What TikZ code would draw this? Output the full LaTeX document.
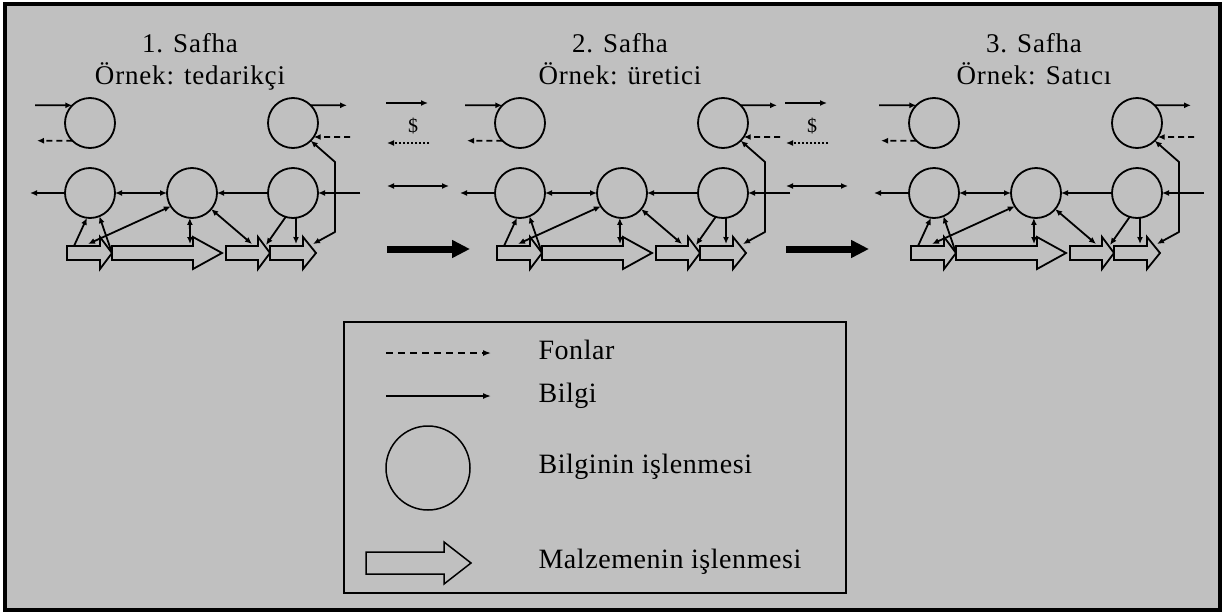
\documentclass[tikz,border=0pt]{standalone}
\usepackage{fontspec}
\setmainfont{Liberation Serif}
\usetikzlibrary{arrows.meta,calc}
\definecolor{panel}{RGB}{192,192,192}
\tikzset{
  tip/.style={-{Latex[length=7pt,width=6pt]}},
  tips/.style={{Latex[length=7pt,width=6pt]}-{Latex[length=7pt,width=6pt]}},
  proc/.style={circle,draw,line width=1.8pt,minimum size=50pt,inner sep=0pt,outer sep=0pt},
  flow/.style={line width=1.8pt},
  fund/.style={line width=1.8pt,dash pattern=on 6pt off 4pt},
  money/.style={line width=1.6pt,dash pattern=on 2pt off 2pt},
  mat/.style={draw,line width=1.8pt,fill=panel,line join=miter},
  goods/.style={line width=7pt,-{Triangle[length=18pt,width=17pt]}},
  title/.style={font=\fontsize{27}{32}\selectfont\addfontfeatures{LetterSpace=3},anchor=base},
  legtext/.style={font=\fontsize{28}{34}\selectfont\addfontfeatures{LetterSpace=2},anchor=base west},
}
% block arrow for material processing: left x, head start x, tip x, centre y, body half, head half
\newcommand\matarrow[6]{%
  \draw[mat] (#1,#4-#5) -- (#2,#4-#5) -- (#2,#4-#6) -- (#3,#4) -- (#2,#4+#6)
    -- (#2,#4+#5) -- (#1,#4+#5) -- cycle;}
\begin{document}
\begin{tikzpicture}[x=1pt,y=-1pt]
\useasboundingbox (0,0) rectangle (1230,613);
\fill[white] (0,0) rectangle (1230,613);
\draw[line width=4pt,fill=panel] (5,4) rectangle (1220,610);

% the three stages of the chain
\foreach \s/\dx/\who in {1/0/tedarikçi,2/430/üretici,3/844/Satıcı}{
\begin{scope}[xshift=\dx pt]
  \node[title] (h\s) at (190,52) {\s. Safha};
  \node[title] (w\s) at (190,84) {Örnek: \who};

  \node[proc] (tl\s) at (90,123) {};
  \node[proc] (tr\s) at (293,123) {};
  \node[proc] (ml\s) at (90,193) {};
  \node[proc] (mc\s) at (192,193) {};
  \node[proc] (mr\s) at (293,193) {};

  \matarrow{67}{100}{112}{253}{7}{16}
  \matarrow{112}{193}{222}{253}{7}{16}
  \matarrow{226}{258}{270}{253}{7}{16}
  \matarrow{270}{303}{316}{253}{7}{16}

  % free ends of the connectors
  \coordinate (tli\s) at (35,105.3);
  \coordinate (tlo\s) at (37,140.7);
  \coordinate (tro\s) at (347,105.3);
  \coordinate (tri\s) at (350,137);
  \coordinate (mlo\s) at (30,193);
  \coordinate (mri\s) at (360,193);
  \coordinate (a1a\s) at (74,246);
  \coordinate (a1t\s) at (112,253);
  \coordinate (a1b\s) at (88,244);
  \coordinate (a2a\s) at (190,244);
  \coordinate (a3a\s) at (252,244);
  \coordinate (a3b\s) at (266,245);
  \coordinate (a4a\s) at (296,244);
  \coordinate (a4b\s) at (313,244);
  \coordinate (fb1\s) at (335,232);
  \coordinate (fb2\s) at (335,162);

  \draw[flow,tip] (tli\s) -- (tl\s.135);
  \draw[fund,tip] (tl\s.225) -- (tlo\s);
  \draw[flow,tip] (tr\s.45) -- (tro\s);
  \draw[fund,tip] (tri\s) -- (tr\s.-34);
  \draw[flow,tip] (ml\s) -- (mlo\s) ;
  \draw[flow,tips] (ml\s) -- (mc\s);
  \draw[flow,tip] (mr\s) -- (mc\s);
  \draw[flow,tip] (mri\s) -- (mr\s);
  \draw[flow,tips,line join=round] (a4b\s) -- (fb1\s) -- (fb2\s) -- (tr\s.-45);
  \draw[flow,tip] (a1a\s) -- (ml\s.-97);
  \draw[flow,tip] (a1t\s) -- (ml\s.-68);
  \draw[flow,tips] (a1b\s) -- (mc\s.212);
  \draw[flow,tips] (a2a\s) -- (mc\s.-95);
  \draw[flow,tips] (mc\s.-40) -- (a3a\s);
  \draw[flow,tip] (mr\s.253) -- (a3b\s);
  \draw[flow,tip] (mr\s.-83) -- (a4a\s);
\end{scope}}

% exchanges between neighbouring stages
\foreach \g/\dx in {1/0,2/399}{
\begin{scope}[xshift=\dx pt]
  \coordinate (gi0\g) at (386,103);  \coordinate (gi1\g) at (428,103);
  \coordinate (gm0\g) at (429,143);  \coordinate (gm1\g) at (387,143);
  \coordinate (gd0\g) at (387,186);  \coordinate (gd1\g) at (449,186);
  \coordinate (gg0\g) at (387,249);  \coordinate (gg1\g) at (470,249);
  \draw[flow,tip] (gi0\g) -- (gi1\g);
  \node[font=\fontsize{20}{24}\selectfont,anchor=base] (usd\g) at (413,132) {\$};
  \draw[money,tip] (gm0\g) -- (gm1\g);
  \draw[flow,tips] (gd0\g) -- (gd1\g);
  \draw[goods] (gg0\g) -- (gg1\g);
\end{scope}}

% legend
\draw[line width=2pt] (344,322) rectangle (846,593);
\coordinate (lf0) at (386,353); \coordinate (lf1) at (491,353);
\coordinate (li0) at (386,396); \coordinate (li1) at (491,396);
\draw[line width=1.5pt,dash pattern=on 7pt off 5pt,-{Latex[length=8pt,width=6pt]}] (lf0) -- (lf1);
\draw[line width=1.5pt,-{Latex[length=8pt,width=6pt]}] (li0) -- (li1);
\node[circle,draw,line width=1.5pt,minimum size=84pt,inner sep=0pt] (lc) at (428,468) {};
\draw[line width=1.5pt,fill=panel] (366,552) -- (444,552) -- (444,542) -- (471,563)
  -- (444,584) -- (444,574) -- (366,574) -- cycle;
\node[legtext] (t1) at (535,359) {Fonlar};
\node[legtext] (t2) at (535,402) {Bilgi};
\node[legtext] (t3) at (535,473) {Bilginin işlenmesi};
\node[legtext] (t4) at (535,568) {Malzemenin işlenmesi};
\end{tikzpicture}
\end{document}
